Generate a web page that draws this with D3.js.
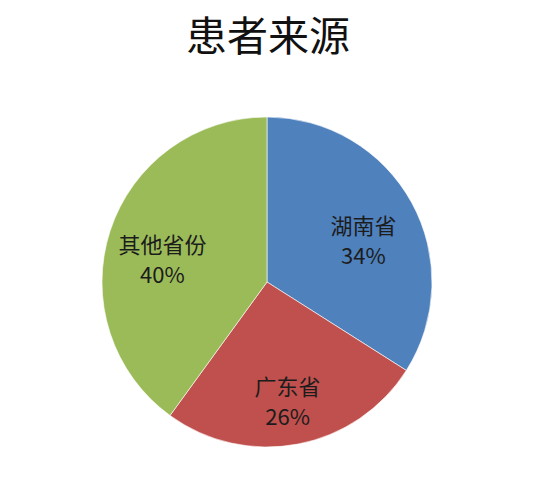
<!DOCTYPE html>
<html>
<head>
<meta charset="utf-8">
<script src="https://cdn.jsdelivr.net/npm/d3@7"></script>
<style>
  body { margin: 0; background: #fff; }
  text { font-family: "Noto Sans CJK SC", "Noto Sans", sans-serif; }
</style>
</head>
<body>
<svg id="chart"></svg>
<script>
// chart data
const title = '患者来源';
const regions = ['湖南省', '广东省', '其他省份'];
const shares = [34, 26, 40];
const sliceColors = ['#4F81BD', '#C0504D', '#9BBB59'];

const width = 556;
const height = 498;
const cx = 267, cy = 282;
const radius = 165;

const svg = d3.select('#chart')
  .attr('width', width)
  .attr('height', height);

svg.append('text')
  .attr('x', 268)
  .attr('y', 33)
  .attr('text-anchor', 'middle')
  .attr('dominant-baseline', 'central')
  .attr('font-size', 41)
  .attr('fill', '#111')
  .text(title);

const slices = regions.map((name, i) => ({ name, value: shares[i], color: sliceColors[i] }));

const pie = d3.pie()
  .sort(null)
  .value(d => d.value);

const arc = d3.arc().innerRadius(0).outerRadius(radius);
const labelArc = d3.arc().innerRadius(110).outerRadius(110);

const g = svg.append('g').attr('transform', `translate(${cx},${cy})`);

const arcs = pie(slices);

g.selectAll('path')
  .data(arcs)
  .enter()
  .append('path')
  .attr('d', arc)
  .attr('fill', d => d.data.color)
  .attr('stroke', '#fff')
  .attr('stroke-width', 0.6);

const labels = g.selectAll('text.lbl')
  .data(arcs)
  .enter()
  .append('text')
  .attr('class', 'lbl')
  .attr('text-anchor', 'middle')
  .attr('font-size', 22)
  .attr('fill', '#1c1c1c')
  .attr('transform', d => {
    const [x, y] = labelArc.centroid(d);
    return `translate(${x},${y + 11})`;
  });

labels.append('tspan')
  .attr('x', 0)
  .attr('y', -6)
  .text(d => d.data.name);

labels.append('tspan')
  .attr('x', 0)
  .attr('y', 24)
  .text(d => d.data.value + '%');
</script>
</body>
</html>
